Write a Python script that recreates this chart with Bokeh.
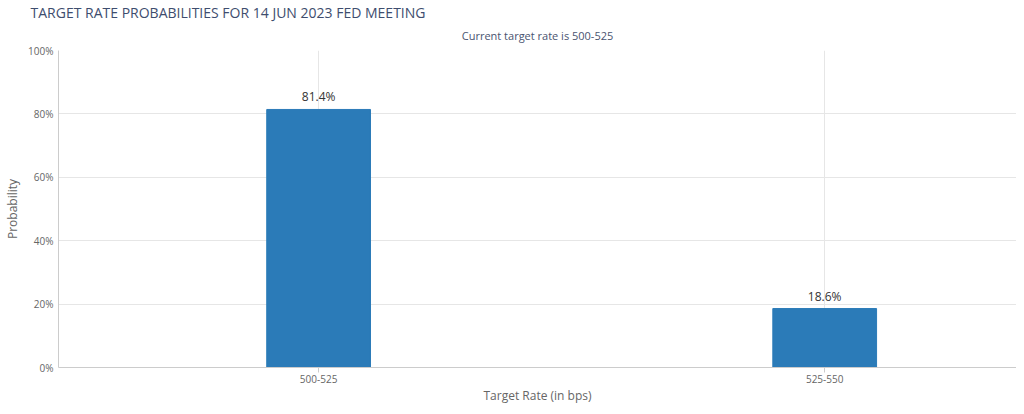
from bokeh.plotting import figure
from bokeh.models import Range1d, FixedTicker, PrintfTickFormatter, ColumnDataSource, Title
from bokeh.core.properties import value
from bokeh.embed import file_html
from bokeh.resources import INLINE

categories = ["500-525", "525-550"]
probabilities = [81.4, 18.6]
y_ticks = [0, 20, 40, 60, 80, 100]

FONT = "Open Sans"

xs = list(range(len(categories)))
src = ColumnDataSource(dict(x=xs, top=probabilities,
                            lbl=[f"{v:.1f}%" for v in probabilities]))

p = figure(width=1016, height=406, output_backend="svg", toolbar_location=None,
           x_range=Range1d(-0.514, 1.379), y_range=Range1d(0, 100),
           min_border_left=58, min_border_right=0, min_border_top=49, min_border_bottom=31)
p.outline_line_color = None

p.title.text = "TARGET RATE PROBABILITIES FOR 14 JUN 2023 FED MEETING"
p.title.align = "left"
p.title.text_font = FONT
p.title.text_font_size = "14px"
p.title.text_font_style = "normal"
p.title.text_color = "#3e4d6e"
p.title.offset = -28
p.title.standoff = 0

sub = Title(text="Current target rate is 500-525", align="center",
            text_font=FONT, text_font_size="11px", text_font_style="normal",
            text_color="#4a5470", standoff=12, vertical_align="top")
p.add_layout(sub, "above")

p.vbar(x="x", top="top", width=0.205, source=src, fill_color="#2b7bb8",
       line_color="#2b7bb8")
p.text(x="x", y="top", text="lbl", source=src, text_align="center",
       text_baseline="bottom", y_offset=-4, text_font_size="12px",
       text_color="#333333", text_font=value(FONT))

p.xaxis.ticker = FixedTicker(ticks=xs)
p.xaxis.major_label_overrides = {i: c for i, c in enumerate(categories)}
p.yaxis.ticker = FixedTicker(ticks=y_ticks)
p.yaxis.formatter = PrintfTickFormatter(format="%d%%")

for ax in (p.xaxis, p.yaxis):
    ax.axis_line_color = "#cccccc"
    ax.major_label_text_font = FONT
    ax.major_label_text_font_size = "10px"
    ax.major_label_text_color = "#666666"
    ax.axis_label_text_font = FONT
    ax.axis_label_text_font_size = "12px"
    ax.axis_label_text_color = "#666666"
    ax.axis_label_text_font_style = "normal"
    ax.minor_tick_line_color = None

p.xaxis.major_tick_line_color = "#cccccc"
p.xaxis.major_tick_in = 0
p.xaxis.major_tick_out = 5
p.xaxis.major_label_standoff = 2
p.xaxis.axis_label = "Target Rate (in bps)"
p.xaxis.axis_label_standoff = 1
p.yaxis.major_tick_line_color = None
p.yaxis.major_tick_in = 0
p.yaxis.major_tick_out = 0
p.yaxis.major_label_standoff = 5
p.yaxis.axis_label = "Probability"
p.yaxis.axis_label_standoff = 4

p.grid.grid_line_color = "#e6e6e6"

open("out.html", "w").write(file_html(p, INLINE))
